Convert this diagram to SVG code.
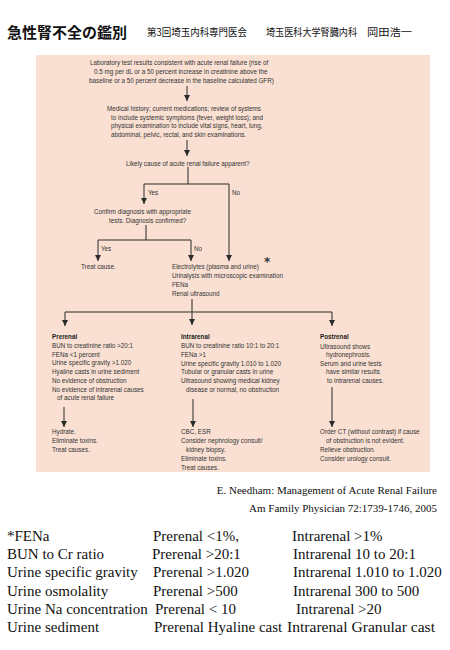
<svg xmlns="http://www.w3.org/2000/svg" width="450" height="650" viewBox="0 0 450 650">
<defs>
<marker id="ah" viewBox="0 0 6 6" refX="6" refY="3" markerWidth="6" markerHeight="6" markerUnits="userSpaceOnUse" orient="auto">
<path d="M0,0 L6,3 L0,6 Z" fill="#2b2b2b"/>
</marker>
<style>
.jp{font-family:"Noto Sans CJK JP","Noto Sans",sans-serif;fill:#111}
.t{font-family:"Liberation Sans","Noto Sans",sans-serif;font-size:6.3px;fill:#333}
.b{font-weight:bold;fill:#1a1a1a}
.s{font-family:"Liberation Serif","DejaVu Serif",serif;fill:#111}
.c{stroke:#2b2b2b;stroke-width:1;fill:none}
.a{marker-end:url(#ah)}
</style>
</defs>
<rect width="450" height="650" fill="#ffffff"/>
<g id="header">
<text class="jp" x="7" y="37.5" font-size="15" font-weight="bold">急性腎不全の鑑別</text>
<text class="jp" x="147" y="36" font-size="9.8" textLength="100" lengthAdjust="spacingAndGlyphs">第3回埼玉内科専門医会</text>
<text class="jp" x="266" y="36" font-size="9.8" textLength="91" lengthAdjust="spacingAndGlyphs">埼玉医科大学腎臓内科</text>
<text class="jp" x="367" y="36" font-size="9.8" textLength="45" lengthAdjust="spacingAndGlyphs">岡田浩一</text>
</g>
<rect id="panel" x="36" y="55" width="394" height="417" fill="#f9e0d2"/>
<g id="connectors">
<line class="c a" x1="187" y1="86" x2="187" y2="101"/>
<line class="c a" x1="187" y1="140" x2="187" y2="156"/>
<polyline class="c" points="188,167 188,184"/>
<polyline class="c a" points="188,184 144,184 144,204"/>
<polyline class="c a" points="188,184 229,184 229,261"/>
<polyline class="c" points="146,225 146,240"/>
<polyline class="c a" points="146,240 98,240 98,261"/>
<polyline class="c a" points="146,240 191,240 191,261"/>
<polyline class="c a" points="192,299 192,325"/>
<polyline class="c a" points="192,312 65,312 65,326"/>
<polyline class="c a" points="192,312 332,312 332,326"/>
<line class="c a" x1="64" y1="407" x2="64" y2="427"/>
<line class="c a" x1="193" y1="399" x2="193" y2="427"/>
<line class="c a" x1="332" y1="387" x2="332" y2="427"/>
<text class="t" x="148" y="195.2">Yes</text>
<text class="t" x="232" y="195.2">No</text>
<text class="t" x="101" y="251.2">Yes</text>
<text class="t" x="194" y="251.2">No</text>
</g>
<g id="n-lab">
<text class="t" x="90" y="65.2">Laboratory test results consistent with acute renal failure (rise of</text>
<text class="t" x="94" y="74.2">0.5 mg per dL or a 50 percent increase in creatinine above the</text>
<text class="t" x="89" y="82.7">baseline or a 50 percent decrease in the baseline calculated GFR)</text>
</g>
<g id="n-history">
<text class="t" x="107" y="111.2">Medical history; current medications; review of systems</text>
<text class="t" x="111" y="119.7">to include systemic symptoms (fever, weight loss); and</text>
<text class="t" x="111" y="128.2">physical examination to include vital signs, heart, lung,</text>
<text class="t" x="111" y="136.7">abdominal, pelvic, rectal, and skin examinations.</text>
</g>
<g id="n-likely">
<text class="t" x="126" y="165.7">Likely cause of acute renal failure apparent?</text>
</g>
<g id="n-confirm">
<text class="t" x="94" y="214.2">Confirm diagnosis with appropriate</text>
<text class="t" x="109" y="223.2">tests. Diagnosis confirmed?</text>
</g>
<g id="n-treat">
<text class="t" x="81" y="269.2">Treat cause.</text>
</g>
<g id="n-tests">
<text class="t" x="172" y="269.2">Electrolytes (plasma and urine)</text>
<text class="t" x="172" y="278.2">Urinalysis with microscopic examination</text>
<text class="t" x="172" y="286.7">FENa</text>
<text class="t" x="172" y="296.2">Renal ultrasound</text>
</g>
<g id="asterisk">
<text x="264" y="266" font-family="DejaVu Sans,sans-serif" font-size="12" font-weight="bold" fill="#333">*</text>
</g>
<g id="n-prerenal">
<text class="t b" x="52" y="339.2">Prerenal</text>
<text class="t" x="52" y="348.2">BUN to creatinine ratio &gt;20:1</text>
<text class="t" x="52" y="356.7">FENa &lt;1 percent</text>
<text class="t" x="52" y="365.2">Urine specific gravity &gt;1.020</text>
<text class="t" x="52" y="374.2">Hyaline casts in urine sediment</text>
<text class="t" x="52" y="383.2">No evidence of obstruction</text>
<text class="t" x="52" y="391.7">No evidence of intrarenal causes</text>
<text class="t" x="57" y="400.2">of acute renal failure</text>
</g>
<g id="n-intrarenal">
<text class="t b" x="181" y="339.2">Intrarenal</text>
<text class="t" x="181" y="348.2">BUN to creatinine ratio 10:1 to 20:1</text>
<text class="t" x="181" y="357.2">FENa &gt;1</text>
<text class="t" x="181" y="365.7">Urine specific gravity 1.010 to 1.020</text>
<text class="t" x="181" y="374.2">Tubular or granular casts in urine</text>
<text class="t" x="181" y="383.2">Ultrasound showing medical kidney</text>
<text class="t" x="186" y="391.7">disease or normal, no obstruction</text>
</g>
<g id="n-postrenal">
<text class="t b" x="320" y="339.2">Postrenal</text>
<text class="t" x="320" y="348.7">Ultrasound shows</text>
<text class="t" x="326" y="357.2">hydronephrosis.</text>
<text class="t" x="320" y="365.7">Serum and urine tests</text>
<text class="t" x="326" y="374.2">have similar results</text>
<text class="t" x="327" y="383.2">to intrarenal causes.</text>
</g>
<g id="n-pre-mgmt">
<text class="t" x="52" y="434.2">Hydrate.</text>
<text class="t" x="52" y="443.2">Eliminate toxins.</text>
<text class="t" x="52" y="452.2">Treat causes.</text>
</g>
<g id="n-intra-mgmt">
<text class="t" x="181" y="434.2">CBC, ESR</text>
<text class="t" x="181" y="443.2">Consider nephrology consult/</text>
<text class="t" x="186" y="452.2">kidney biopsy.</text>
<text class="t" x="181" y="461.2">Eliminate toxins.</text>
<text class="t" x="181" y="470.2">Treat causes.</text>
</g>
<g id="n-post-mgmt">
<text class="t" x="320" y="434.2">Order CT (without contrast) if cause</text>
<text class="t" x="326" y="443.2">of obstruction is not evident.</text>
<text class="t" x="320" y="452.2">Relieve obstruction.</text>
<text class="t" x="320" y="461.2">Consider urology consult.</text>
</g>
<g id="reference">
<text class="s" x="437" y="494" font-size="11" text-anchor="end">E. Needham: Management of Acute Renal Failure</text>
<text class="s" x="437" y="512" font-size="11" text-anchor="end">Am Family Physician 72:1739-1746, 2005</text>
</g>
<g id="table" font-size="15">
<text class="s" x="7" y="541">*FENa</text>
<text class="s" x="153" y="541">Prerenal &lt;1%,</text>
<text class="s" x="292" y="541">Intrarenal &gt;1%</text>
<text class="s" x="7" y="559">BUN to Cr ratio</text>
<text class="s" x="152" y="559">Prerenal &gt;20:1</text>
<text class="s" x="293" y="559">Intrarenal 10 to 20:1</text>
<text class="s" x="7" y="577">Urine specific gravity</text>
<text class="s" x="153" y="577">Prerenal &gt;1.020</text>
<text class="s" x="293" y="577">Intrarenal 1.010 to 1.020</text>
<text class="s" x="7" y="596">Urine osmolality</text>
<text class="s" x="153" y="596">Prerenal &gt;500</text>
<text class="s" x="293" y="596">Intrarenal 300 to 500</text>
<text class="s" x="7" y="614">Urine Na concentration</text>
<text class="s" x="155" y="614">Prerenal &lt; 10</text>
<text class="s" x="296" y="614">Intrarenal &gt;20</text>
<text class="s" x="7" y="632">Urine sediment</text>
<text class="s" x="154" y="632">Prerenal Hyaline cast</text>
<text class="s" x="287" y="632" textLength="148" lengthAdjust="spacingAndGlyphs">Intrarenal Granular cast</text>
</g>
</svg>
